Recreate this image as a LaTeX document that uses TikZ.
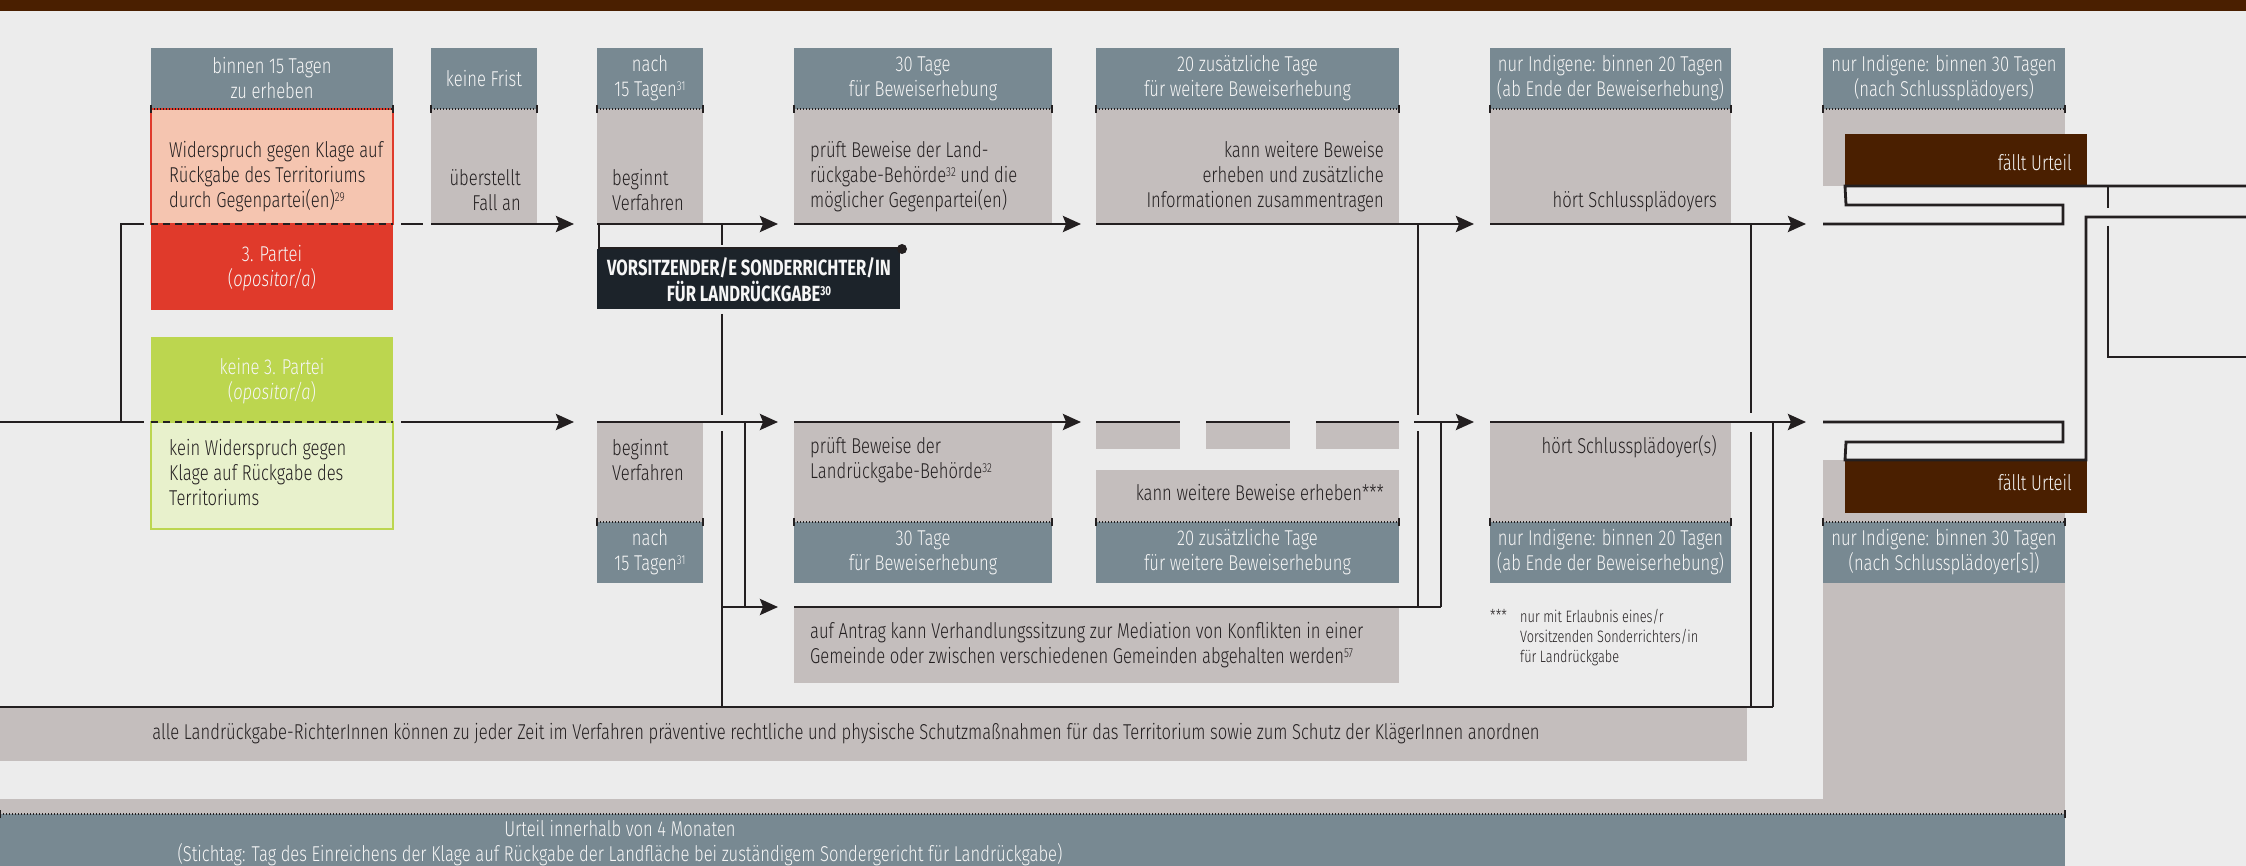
\documentclass[tikz,border=0pt]{standalone}
\usepackage{fontspec}
\setmainfont{Fira Sans Light}[FakeStretch=0.772]
\newfontfamily\headfont{Fira Sans}[FakeStretch=0.755]
\usetikzlibrary{arrows.meta}

\definecolor{bgc}{RGB}{236,236,236}
\definecolor{hdrc}{RGB}{120,137,146}
\definecolor{grayc}{RGB}{196,190,189}
\definecolor{pinkc}{RGB}{245,197,176}
\definecolor{redc}{RGB}{224,58,43}
\definecolor{greenc}{RGB}{188,214,79}
\definecolor{lgreenc}{RGB}{232,241,204}
\definecolor{darkc}{RGB}{28,35,42}
\definecolor{brownc}{RGB}{74,31,0}
\definecolor{inkc}{RGB}{35,31,32}
\definecolor{paperc}{RGB}{246,246,246}

\newcommand{\fnref}[1]{\raisebox{0.55ex}{\fontsize{13}{13}\selectfont #1}}
\newcommand{\txtsize}{\fontsize{21.5}{25}\selectfont}

% dotted rule between a time header and its box, with end ticks
\newcommand{\sepline}[2]{%
  \draw[sepdots] (#1) -- (#2);
  \draw[septick] ([yshift=4pt]#1) -- ([yshift=-4pt]#1);
  \draw[septick] ([yshift=4pt]#2) -- ([yshift=-4pt]#2);}

\begin{document}
\begin{tikzpicture}[x=1pt,y=-1pt,
  box/.style={draw=none,inner sep=0pt,outer sep=0pt,anchor=north west},
  hdr/.style={box,fill=hdrc},
  gbox/.style={box,fill=grayc},
  ln/.style={draw=inkc,line width=2.8pt},
  arr/.style={ln,-{Stealth[length=18pt,width=16pt,inset=3pt]}},
  dln/.style={ln,dash pattern=on 7pt off 5pt},
  sepdots/.style={draw=inkc,line width=1.3pt,dash pattern=on 1pt off 2pt},
  septick/.style={draw=inkc,line width=1.3pt},
  txt/.style={inner sep=0pt,text=inkc,font=\txtsize},
  wtxt/.style={inner sep=0pt,text=paperc,font=\txtsize,align=center},
  small/.style={inner sep=0pt,text=inkc,font=\fontsize{16.5}{20}\selectfont}]

\useasboundingbox (0,0) rectangle (2246,866);
\fill[bgc] (0,0) rectangle (2246,866);
\fill[brownc] (0,0) rectangle (2246,11);

% ---------- upper track: third party objects ----------
\node[hdr,minimum width=242,minimum height=61] (b1h) at (151,48) {};
\node[box,fill=pinkc,draw=redc,line width=1.5pt,minimum width=242,minimum height=115] (b1b) at (151,109) {};
\node[box,fill=redc,minimum width=242,minimum height=86] (b1r) at (151,224) {};
\node[hdr,minimum width=106,minimum height=61] (b2h) at (431,48) {};
\node[gbox,minimum width=106,minimum height=115] (b2b) at (431,109) {};
\node[hdr,minimum width=106,minimum height=61] (b3h) at (597,48) {};
\node[gbox,minimum width=106,minimum height=115] (b3b) at (597,109) {};
\node[box,fill=darkc,minimum width=303,minimum height=60] (vr) at (597,249) {};
\node[hdr,minimum width=258,minimum height=61] (b4h) at (794,48) {};
\node[gbox,minimum width=258,minimum height=115] (b4b) at (794,109) {};
\node[hdr,minimum width=303,minimum height=61] (b5h) at (1096,48) {};
\node[gbox,minimum width=303,minimum height=115] (b5b) at (1096,109) {};
\node[hdr,minimum width=241,minimum height=61] (b6h) at (1490,48) {};
\node[gbox,minimum width=241,minimum height=115] (b6b) at (1490,109) {};
\node[hdr,minimum width=242,minimum height=61] (b7h) at (1823,48) {};
\node[gbox,minimum width=242,minimum height=77] (b7b) at (1823,109) {};
\node[box,fill=brownc,minimum width=242,minimum height=52] (u1) at (1845,134) {};

% ---------- lower track: no third party ----------
\node[box,fill=greenc,minimum width=242,minimum height=85] (g1h) at (151,337) {};
\node[box,fill=lgreenc,draw=greenc,line width=2.5pt,minimum width=242,minimum height=107] (g1b) at (151,422) {};
\node[gbox,minimum width=106,minimum height=100] (l3b) at (597,422) {};
\node[hdr,minimum width=106,minimum height=61] (l3h) at (597,522) {};
\node[gbox,minimum width=258,minimum height=100] (l4b) at (794,422) {};
\node[hdr,minimum width=258,minimum height=61] (l4h) at (794,522) {};
\node[gbox,minimum width=84,minimum height=27] (d1) at (1096,422) {};
\node[gbox,minimum width=84,minimum height=27] (d2) at (1206,422) {};
\node[gbox,minimum width=83,minimum height=27] (d3) at (1316,422) {};
\node[gbox,minimum width=303,minimum height=52] (l5b) at (1096,470) {};
\node[hdr,minimum width=303,minimum height=61] (l5h) at (1096,522) {};
\node[gbox,minimum width=241,minimum height=100] (l6b) at (1490,422) {};
\node[hdr,minimum width=241,minimum height=61] (l6h) at (1490,522) {};
\node[gbox,minimum width=242,minimum height=62] (l7b) at (1823,460) {};
\node[box,fill=brownc,minimum width=242,minimum height=53] (u2) at (1845,460) {};
\node[hdr,minimum width=242,minimum height=61] (l7h) at (1823,522) {};
\node[gbox,minimum width=605,minimum height=76] (med) at (794,607) {};
\node[gbox,minimum width=1747,minimum height=54] (prot) at (0,707) {};
\node[gbox,minimum width=242,minimum height=231] (fcol) at (1823,583) {};
\node[gbox,minimum width=2065,minimum height=15] (fstrip) at (0,799) {};
\node[hdr,minimum width=2065,minimum height=52] (fin) at (0,814) {};

% ---------- dotted separators ----------
\sepline{b1h.south west}{b1h.south east}
\sepline{b2h.south west}{b2h.south east}
\sepline{b3h.south west}{b3h.south east}
\sepline{b4h.south west}{b4h.south east}
\sepline{b5h.south west}{b5h.south east}
\sepline{b6h.south west}{b6h.south east}
\sepline{b7h.south west}{b7h.south east}
\sepline{l3h.north west}{l3h.north east}
\sepline{l4h.north west}{l4h.north east}
\sepline{l5h.north west}{l5h.north east}
\sepline{l6h.north west}{l6h.north east}
\sepline{l7h.north west}{l7h.north east}
\sepline{fin.north west}{fin.north east}

% ---------- connectors ----------
\coordinate (split) at (121,422);
\coordinate (splitup) at (121,224);
\coordinate (upa) at (144,224);
\coordinate (lowa) at (144,422);
\coordinate (left) at (0,422);
\coordinate (upd1) at (401,224);
\coordinate (upd2) at (423,224);
\coordinate (lowb) at (401,422);
\draw[ln] (left) -- (lowa);
\draw[ln] (split) -- (splitup) -- (upa);
\draw[dln] (b1r.north west) -- (b1r.north east);
\draw[dln] (g1b.north west) -- (g1b.north east);
\draw[ln] (upd1) -- (upd2);
\draw[arr,shorten >=23pt] (b2b.south west) -- (b3b.south west);
\draw[arr,shorten >=23pt] (lowb) -- (l3b.north west);

% upper main line
\draw[arr,shorten >=16pt] (b3b.south west) -- (b4b.south west);
\draw[arr,shorten >=15pt] (b4b.south west) -- (b5b.south west);
\draw[arr,shorten >=16pt] (b5b.south west) -- (b6b.south west);
\coordinate (u7in) at (1823,224);
\draw[arr,shorten >=17pt] (b6b.south west) -- (u7in);
\draw[ln] (u7in) -- (2063,224) -- (2063,205) -- (1846,205) -- (u1.south west) -- (2246,186);
\draw[ln] (2108,186) -- (2108,208);
\draw[ln] (2108,226) -- (2108,357) -- (2246,357);

% chair of the special court
\coordinate (vrin) at (599,224);
\draw[ln] (vrin) -- (599,248) -- (902,248);
\fill[inkc] (902,249) circle (5pt);
\draw[ln] (722,224) -- (722,245);
\draw[ln] (722,314) -- (722,415);
\draw[ln] (722,431) -- (722,707);

% lower main line
\draw[arr,shorten >=16pt] (l3b.north west) -- (l4b.north west);
\draw[arr,shorten >=15pt] (l4b.north west) -- (d1.north west);
\draw[ln] (d1.north west) -- (d1.north east);
\draw[ln] (d2.north west) -- (d2.north east);
\draw[ln] (d3.north west) -- (d3.north east);
\coordinate (lowc) at (1414,422);
\draw[arr,shorten >=16pt] (lowc) -- (l6b.north west);
\coordinate (l7in) at (1823,422);
\draw[arr,shorten >=17pt] (l6b.north west) -- (l7in);
\draw[ln] (l7in) -- (2063,422) -- (2063,442) -- (1846,442) -- (u2.north west) -- (2086,460) -- (2086,217) -- (2246,217);

% crossings between the tracks
\draw[ln] (1418,224) -- (1418,415);
\draw[ln] (1418,431) -- (1418,607);
\draw[ln] (1441,422) -- (1441,607);
\draw[ln] (1751,224) -- (1751,413);
\draw[ln] (1751,432) -- (1751,707);
\draw[ln] (1773,422) -- (1773,707);

% mediation and protection
\draw[ln] (745,422) -- (745,607);
\coordinate (medin) at (722,607);
\draw[arr,shorten >=16pt] (medin) -- (med.north west);
\draw[ln] (med.north west) -- (1441,607);
\coordinate (protl) at (0,707);
\draw[ln] (protl) -- (1773,707);

% ---------- texts ----------
\node[wtxt] (t1h) at (b1h.center) {binnen 15 Tagen\\zu erheben};
\node[txt,anchor=west,align=left] (t1b) at (169,177) {Widerspruch gegen Klage auf\\Rückgabe des Territoriums\\durch Gegenpartei(en)\fnref{29}};
\node[wtxt] (t1r) at (272,268) {3. Partei\\(\textit{opositor/a})};
\node[wtxt] (t2h) at (b2h.center) {keine Frist};
\node[txt,anchor=east,align=right] (t2b) at (521,190) {überstellt\\Fall an};
\node[wtxt] (t3h) at (b3h.center) {nach\\15 Tagen\fnref{31}};
\node[txt,anchor=west,align=left] (t3b) at (612,190) {beginnt\\Verfahren};
\node[wtxt,font=\headfont\fontsize{22}{26}\selectfont\bfseries] (tvr) at (749,280) {VORSITZENDER/E SONDERRICHTER/IN\\FÜR LANDRÜCKGABE\fnref{30}};
\node[wtxt] (t4h) at (b4h.center) {30 Tage\\für Beweiserhebung};
\node[txt,anchor=west,align=left] (t4b) at (810,177) {prüft Beweise der Land-\\rückgabe-Behörde\fnref{32} und die\\möglicher Gegenpartei(en)};
\node[wtxt] (t5h) at (b5h.center) {20 zusätzliche Tage\\für weitere Beweiserhebung};
\node[txt,anchor=east,align=right] (t5b) at (1384,177) {kann weitere Beweise\\erheben und zusätzliche\\Informationen zusammentragen};
\node[wtxt] (t6h) at (b6h.center) {nur Indigene: binnen 20 Tagen\\(ab Ende der Beweiserhebung)};
\node[txt,anchor=east] (t6b) at (1717,202) {hört Schlussplädoyers};
\node[wtxt] (t7h) at (b7h.center) {nur Indigene: binnen 30 Tagen\\(nach Schlussplädoyers)};
\node[wtxt,anchor=east] (tu1) at (2072,163) {fällt Urteil};

\node[wtxt] (tg1h) at (272,381) {keine 3. Partei\\(\textit{opositor/a})};
\node[txt,anchor=west,align=left] (tg1b) at (169,473) {kein Widerspruch gegen\\Klage auf Rückgabe des\\Territoriums};
\node[txt,anchor=west,align=left] (tl3b) at (612,460) {beginnt\\Verfahren};
\node[wtxt] (tl3h) at (l3h.center) {nach\\15 Tagen\fnref{31}};
\node[txt,anchor=west,align=left] (tl4b) at (810,460) {prüft Beweise der\\Landrückgabe-Behörde\fnref{32}};
\node[wtxt] (tl4h) at (l4h.center) {30 Tage\\für Beweiserhebung};
\node[txt,anchor=east] (tl5b) at (1384,493) {kann weitere Beweise erheben***};
\node[wtxt] (tl5h) at (l5h.center) {20 zusätzliche Tage\\für weitere Beweiserhebung};
\node[txt,anchor=east] (tl6b) at (1717,447) {hört Schlussplädoyer(s)};
\node[wtxt] (tl6h) at (l6h.center) {nur Indigene: binnen 20 Tagen\\(ab Ende der Beweiserhebung)};
\node[wtxt,anchor=east] (tu2) at (2072,483) {fällt Urteil};
\node[wtxt] (tl7h) at (l7h.center) {nur Indigene: binnen 30 Tagen\\(nach Schlussplädoyer[s])};

\node[small,anchor=north west] (fnst) at (1490,609) {***};
\node[small,anchor=north west,align=left] (fntx) at (1520,609) {nur mit Erlaubnis eines/r\\Vorsitzenden Sonderrichters/in\\für Landrückgabe};

\node[txt,anchor=west,align=left] (tmed) at (810,645) {auf Antrag kann Verhandlungssitzung zur Mediation von Konflikten in einer\\Gemeinde oder zwischen verschiedenen Gemeinden abgehalten werden\fnref{57}};
\node[txt] (tprot) at (846,734) {alle Landrückgabe-RichterInnen können zu jeder Zeit im Verfahren präventive rechtliche und physische Schutzmaßnahmen für das Territorium sowie zum Schutz der KlägerInnen anordnen};
\node[wtxt] (tfin) at (620,843) {Urteil innerhalb von 4 Monaten\\(Stichtag: Tag des Einreichens der Klage auf Rückgabe der Landfläche bei zuständigem Sondergericht für Landrückgabe)};
\end{tikzpicture}
\end{document}
